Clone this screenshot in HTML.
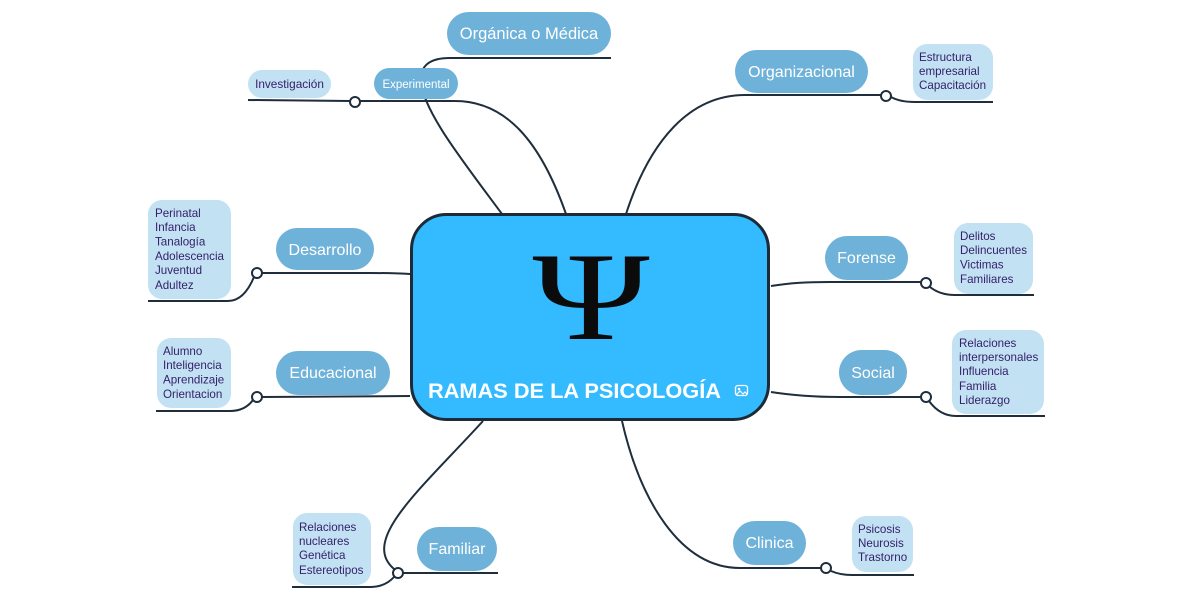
<!DOCTYPE html>
<html><head><meta charset="utf-8"><style>
html,body{margin:0;padding:0;background:#fff;width:1200px;height:600px;overflow:hidden}
svg{display:block}
.ln{fill:none;stroke:#1f2e3c;stroke-width:2}
.cc{fill:#fff;stroke:#1f2e3c;stroke-width:2}
.nd{fill:#6fb2d9}
.sb{fill:#c2e2f3}
.nt{font-family:"Liberation Sans",sans-serif;fill:#fff;font-size:16px}
.st{font-family:"Liberation Sans",sans-serif;fill:#35206a;font-size:11.6px}
</style></head><body>
<svg width="1200" height="600" viewBox="0 0 1200 600" xmlns="http://www.w3.org/2000/svg">
<!-- connectors -->
<path class="ln" d="M502,214 C462,160 424,112 421,82 Q419,58 450,58 L611,58"/>
<path class="ln" d="M566,214 C540,140 505,101 455,101 L360,101"/>
<path class="ln" d="M350,101 L248,100"/>
<path class="ln" d="M626,214 C650,140 690,95 745,95 L881,95"/>
<path class="ln" d="M891,97 Q900,102 915,102 L993,102"/>
<path class="ln" d="M771,286 C790,283 805,282 830,282 L921,282"/>
<path class="ln" d="M930,287 Q940,295 955,295 L1034,295"/>
<path class="ln" d="M771,392 C790,395 810,397 840,397 L921,397"/>
<path class="ln" d="M929,401 Q940,416 956,416 L1045,416"/>
<path class="ln" d="M410,274 C395,273 385,273 370,273 L262,273"/>
<path class="ln" d="M254,277 Q244,301 228,301 L148,301"/>
<path class="ln" d="M410,396 L262,397"/>
<path class="ln" d="M253,400 Q245,411 230,411 L156,411"/>
<path class="ln" d="M483,421 C420,490 360,540 394,569"/>
<path class="ln" d="M403,573 L498,573"/>
<path class="ln" d="M394,577 Q385,587 370,587 L292,587"/>
<path class="ln" d="M622,421 C640,500 680,568 740,568 L821,568"/>
<path class="ln" d="M831,571 Q840,575 852,575 L914,575"/>
<!-- circles -->
<circle class="cc" cx="355" cy="102" r="5"/>
<circle class="cc" cx="886" cy="96" r="5"/>
<circle class="cc" cx="926" cy="283" r="5"/>
<circle class="cc" cx="926" cy="397" r="5"/>
<circle class="cc" cx="257" cy="273" r="5"/>
<circle class="cc" cx="257" cy="397" r="5"/>
<circle class="cc" cx="398" cy="573" r="5"/>
<circle class="cc" cx="826" cy="568" r="5"/>
<!-- central -->
<rect x="411.5" y="214.5" width="357" height="205" rx="35" fill="#33baff" stroke="#1d2b38" stroke-width="3"/>
<g transform="translate(591,339) scale(1.26,1)">
<text x="0" y="0" text-anchor="middle" style="font-family:'Liberation Serif',serif;font-size:126px" fill="#0b0b0b">Ψ</text>
</g>
<text x="428" y="398" style="font-family:'Liberation Sans',sans-serif;font-weight:bold;font-size:21.5px" fill="#fff" textLength="293" lengthAdjust="spacingAndGlyphs">RAMAS DE LA PSICOLOGÍA</text>
<rect x="735.5" y="385.5" width="12" height="10" rx="2.5" fill="none" stroke="#fff" stroke-width="1.3"/>
<circle cx="739" cy="389" r="1.3" fill="#fff"/>
<path d="M736,395 L740,391 L743,394 L745,392 L747,394" fill="none" stroke="#fff" stroke-width="1.2"/>
<!-- main nodes -->
<rect class="nd" x="447" y="12" width="164" height="43" rx="21.5"/>
<text class="nt" x="529" y="39" text-anchor="middle" style="font-size:16.5px">Orgánica o Médica</text>
<rect class="nd" x="374" y="68" width="84" height="31" rx="15.5"/>
<text class="nt" x="416" y="88" text-anchor="middle" style="font-size:11.5px">Experimental</text>
<rect class="sb" x="248" y="70" width="83" height="28" rx="14"/>
<text class="st" x="289.5" y="88" text-anchor="middle" style="font-size:11.8px">Investigación</text>
<rect class="nd" x="735" y="50" width="133" height="43" rx="21.5"/>
<text class="nt" x="801.5" y="77" text-anchor="middle">Organizacional</text>
<rect class="nd" x="825" y="236" width="83" height="44" rx="22"/>
<text class="nt" x="866.5" y="263" text-anchor="middle">Forense</text>
<rect class="nd" x="839" y="350" width="68" height="45" rx="22.5"/>
<text class="nt" x="873" y="378" text-anchor="middle">Social</text>
<rect class="nd" x="276" y="228" width="98" height="42" rx="21"/>
<text class="nt" x="325" y="255" text-anchor="middle">Desarrollo</text>
<rect class="nd" x="276" y="351" width="114" height="44" rx="22"/>
<text class="nt" x="333" y="378" text-anchor="middle">Educacional</text>
<rect class="nd" x="417" y="527" width="80" height="44" rx="22"/>
<text class="nt" x="457" y="554" text-anchor="middle">Familiar</text>
<rect class="nd" x="733" y="521" width="73" height="44" rx="22"/>
<text class="nt" x="769.5" y="548" text-anchor="middle">Clinica</text>
<!-- sub boxes -->
<rect class="sb" x="913" y="44" width="80" height="56" rx="14"/>
<text class="st"><tspan x="919" y="61">Estructura</tspan><tspan x="919" y="75">empresarial</tspan><tspan x="919" y="89">Capacitación</tspan></text>
<rect class="sb" x="954" y="223" width="79" height="71" rx="14"/>
<text class="st"><tspan x="960" y="240">Delitos</tspan><tspan x="960" y="254">Delincuentes</tspan><tspan x="960" y="268.5">Victimas</tspan><tspan x="960" y="283">Familiares</tspan></text>
<rect class="sb" x="952" y="330" width="92" height="84" rx="14"/>
<text class="st"><tspan x="959" y="347">Relaciones</tspan><tspan x="959" y="361">interpersonales</tspan><tspan x="959" y="375">Influencia</tspan><tspan x="959" y="390">Familia</tspan><tspan x="959" y="404">Liderazgo</tspan></text>
<rect class="sb" x="148" y="200" width="83" height="99" rx="14"/>
<text class="st"><tspan x="155" y="217">Perinatal</tspan><tspan x="155" y="231">Infancia</tspan><tspan x="155" y="245.5">Tanalogía</tspan><tspan x="155" y="260">Adolescencia</tspan><tspan x="155" y="274">Juventud</tspan><tspan x="155" y="289">Adultez</tspan></text>
<rect class="sb" x="157" y="338" width="74" height="70" rx="14"/>
<text class="st"><tspan x="163" y="355">Alumno</tspan><tspan x="163" y="369">Inteligencia</tspan><tspan x="163" y="383.5">Aprendizaje</tspan><tspan x="163" y="398">Orientacion</tspan></text>
<rect class="sb" x="293" y="513" width="78" height="72" rx="14"/>
<text class="st"><tspan x="299" y="531">Relaciones</tspan><tspan x="299" y="545">nucleares</tspan><tspan x="299" y="559">Genética</tspan><tspan x="299" y="574">Estereotipos</tspan></text>
<rect class="sb" x="852" y="516" width="61" height="56" rx="14"/>
<text class="st"><tspan x="858" y="533">Psicosis</tspan><tspan x="858" y="547">Neurosis</tspan><tspan x="858" y="561">Trastorno</tspan></text>
</svg>
</body></html>
